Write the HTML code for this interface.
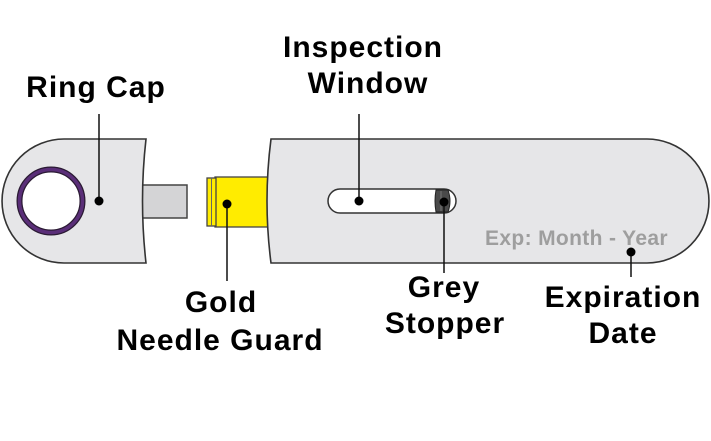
<!DOCTYPE html>
<html><head><meta charset="utf-8"><style>
html,body{margin:0;padding:0;background:#fff;}
svg{display:block;}
.l{font-family:"Liberation Sans",Arial,sans-serif;font-weight:bold;font-size:30px;letter-spacing:1px;fill:#000;text-anchor:middle;}
</style></head><body>
<svg width="711" height="441" viewBox="0 0 711 441" xmlns="http://www.w3.org/2000/svg">
<rect width="711" height="441" fill="#fff"/>
<!-- needle rect -->
<rect x="140" y="185" width="47" height="33" fill="#d4d4d6" stroke="#444" stroke-width="1.5"/>
<!-- ring cap -->
<path d="M64,139 L146,139 Q139,201 146,263 L64,263 A62,62 0 0 1 64,139 Z" fill="#e6e6e8" stroke="#333" stroke-width="1.6"/>
<circle cx="51" cy="201" r="31.5" fill="#fff" stroke="#2a1a33" stroke-width="6"/>
<circle cx="51" cy="201" r="31.5" fill="none" stroke="#5a2e78" stroke-width="3.5"/>
<!-- gold needle guard -->
<rect x="215" y="177" width="56" height="50" fill="#ffec00" stroke="#444" stroke-width="1.3"/>
<rect x="207" y="178" width="9" height="48" fill="#ffec00" stroke="#444" stroke-width="1.3"/>
<line x1="211.5" y1="178" x2="211.5" y2="226" stroke="#666" stroke-width="1"/>
<!-- main body -->
<path d="M271,139 L647,139 A62,62 0 0 1 647,263 L271,263 Q263,201 271,139 Z" fill="#e6e6e8" stroke="#333" stroke-width="1.6"/>
<!-- window -->
<rect x="328" y="189" width="128" height="24" rx="12" ry="12" fill="#fff" stroke="#333" stroke-width="1.5"/>
<path d="M436,190 L448,190 Q452,201 448,212 L436,212 Q434,201 436,190 Z" fill="#4a4a4a" stroke="#222" stroke-width="1"/>
<line x1="441" y1="191" x2="441" y2="211" stroke="#777" stroke-width="1"/>
<!-- exp text -->
<text x="485" y="245" font-family="Liberation Sans, Arial, sans-serif" font-weight="bold" font-size="21" letter-spacing="0.35" fill="#9e9e9e">Exp: Month - Year</text>
<!-- leaders -->
<g stroke="#111" stroke-width="1.5">
<line x1="99" y1="114" x2="99" y2="201"/>
<line x1="359" y1="114" x2="359" y2="201"/>
<line x1="227" y1="204" x2="227" y2="281"/>
<line x1="444" y1="202" x2="444" y2="273"/>
<line x1="631" y1="252" x2="631" y2="277"/>
</g>
<g fill="#000">
<circle cx="99" cy="201" r="4.5"/>
<circle cx="359" cy="201" r="4.5"/>
<circle cx="227" cy="204" r="4.5"/>
<circle cx="444" cy="202" r="4.5"/>
<circle cx="631" cy="252" r="4.5"/>
</g>
<!-- labels -->
<text class="l" x="96" y="97">Ring Cap</text>
<text class="l" x="363" y="57">Inspection</text>
<text class="l" x="368" y="93">Window</text>
<text class="l" x="221" y="312">Gold</text>
<text class="l" x="220" y="350">Needle Guard</text>
<text class="l" x="444" y="297">Grey</text>
<text class="l" x="445" y="333">Stopper</text>
<text class="l" x="623" y="307">Expiration</text>
<text class="l" x="623" y="343">Date</text>
</svg>
</body></html>
